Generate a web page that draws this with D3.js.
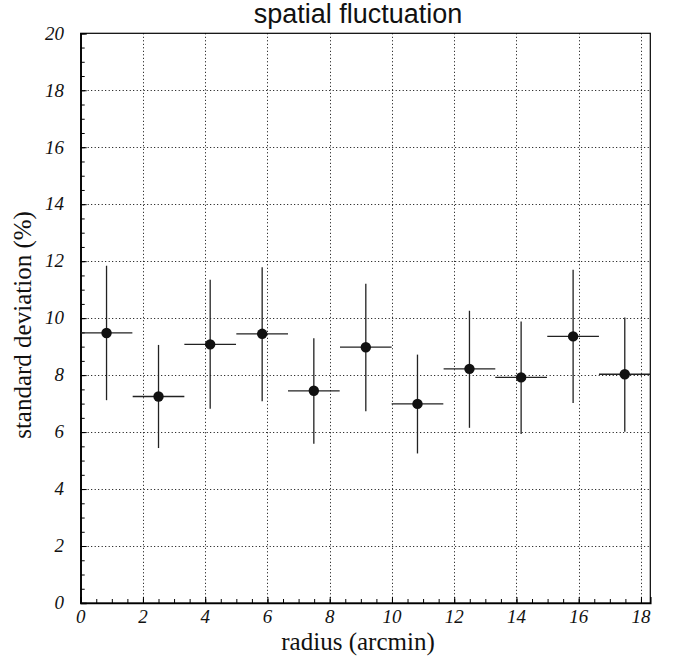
<!DOCTYPE html>
<html>
<head>
<meta charset="utf-8">
<script src="https://cdn.jsdelivr.net/npm/d3@7"></script>
<style>
  html, body { margin: 0; padding: 0; background: #fff; }
  svg { display: block; }
</style>
</head>
<body>
<svg id="chart" width="675" height="659"></svg>
<script>
// ---- data ----
const radius = [0.83, 2.50, 4.16, 5.83, 7.49, 9.16, 10.82, 12.49, 14.15, 15.82, 17.48];
const binHalfWidth = [0.83, 0.83, 0.83, 0.83, 0.83, 0.83, 0.83, 0.83, 0.83, 0.83, 0.83];
const stdDev = [9.48, 7.25, 9.08, 9.45, 7.45, 8.98, 6.99, 8.22, 7.92, 9.36, 8.03];
const errHigh = [11.84, 9.06, 11.35, 11.79, 9.29, 11.21, 8.72, 10.26, 9.88, 11.70, 10.02];
const errLow = [7.12, 5.44, 6.82, 7.08, 5.59, 6.73, 5.25, 6.15, 5.93, 7.02, 6.01];
const xTicks = [0, 2, 4, 6, 8, 10, 12, 14, 16, 18];
const yTicks = [0, 2, 4, 6, 8, 10, 12, 14, 16, 18, 20];
const titleText = "spatial fluctuation";
const xTitle = "radius (arcmin)";
const yTitle = "standard deviation (%)";

// ---- layout ----
const L = 80.7, R = 650.3, T = 33.3, B = 603;
const svg = d3.select("#chart");
const x = d3.scaleLinear().domain([0, 18.3]).range([L, R]);
const y = d3.scaleLinear().domain([0, 20]).range([B, T]);

// grid
const grid = svg.append("g").attr("stroke", "#000").attr("stroke-width", 1).attr("stroke-dasharray", "1,2.5");
grid.selectAll(".gx").data(xTicks.filter(d => d > 0)).join("line")
  .attr("x1", d => Math.round(x(d)) + 0.5).attr("x2", d => Math.round(x(d)) + 0.5)
  .attr("y1", T).attr("y2", B);
grid.selectAll(".gy").data(yTicks.filter(d => d > 0 && d < 20)).join("line")
  .attr("y1", d => Math.round(y(d)) + 0.5).attr("y2", d => Math.round(y(d)) + 0.5)
  .attr("x1", L).attr("x2", R);

// frame
svg.append("rect").attr("x", L).attr("y", T).attr("width", R - L).attr("height", B - T)
  .attr("fill", "none").attr("stroke", "#000").attr("stroke-width", 1.2);

// axes
const fmt = d3.format("d");
const xMinor = d3.range(0, 18.3, 0.5);
const yMinor = d3.range(0, 20.01, 0.5);
const xAxisG = svg.append("g").attr("transform", `translate(0,${B})`);
xAxisG.call(d3.axisTop(x).tickValues(xMinor).tickSize(4).tickFormat(""));
xAxisG.call(g => g.select(".domain").remove());
const xAxisMajor = svg.append("g").attr("transform", `translate(0,${B})`);
xAxisMajor.call(d3.axisTop(x).tickValues(xTicks).tickSize(6).tickFormat(""));
xAxisMajor.select(".domain").attr("stroke-width", 1.5);
svg.selectAll(".tick line").attr("stroke", "#000");

const yAxisG = svg.append("g").attr("transform", `translate(${L},0)`);
yAxisG.call(d3.axisRight(y).tickValues(yMinor).tickSize(4).tickFormat(""));
yAxisG.call(g => g.select(".domain").remove());
const yAxisMajor = svg.append("g").attr("transform", `translate(${L},0)`);
yAxisMajor.call(d3.axisRight(y).tickValues(yTicks).tickSize(6).tickFormat(""));
yAxisMajor.select(".domain").attr("stroke-width", 1.5);
svg.selectAll(".tick line").attr("stroke", "#000");

// tick labels
const labelFont = "'Liberation Serif', 'Times New Roman', serif";
svg.append("g").selectAll("text").data(xTicks).join("text")
  .attr("x", d => x(d)).attr("y", 623)
  .attr("text-anchor", "middle")
  .attr("font-family", labelFont).attr("font-style", "italic").attr("font-size", 19)
  .attr("fill", "#111")
  .text(fmt);
svg.append("g").selectAll("text").data(yTicks).join("text")
  .attr("x", 64).attr("y", d => y(d)).attr("dy", "0.33em")
  .attr("text-anchor", "end")
  .attr("font-family", labelFont).attr("font-style", "italic").attr("font-size", 19)
  .attr("fill", "#111")
  .text(fmt);

// axis titles
svg.append("text").attr("x", 358).attr("y", 650).attr("text-anchor", "middle")
  .attr("font-family", labelFont).attr("font-size", 25).attr("fill", "#111").text(xTitle);
svg.append("text").attr("transform", "translate(31,325) rotate(-90)").attr("text-anchor", "middle")
  .attr("font-family", labelFont).attr("font-size", 25).attr("fill", "#111").text(yTitle);

// title
svg.append("text").attr("x", 358).attr("y", 23).attr("text-anchor", "middle")
  .attr("font-family", "'Liberation Sans', Arial, Helvetica, sans-serif").attr("font-size", 27)
  .attr("fill", "#111").text(titleText);

// data
const pts = radius.map((r, i) => ({ r, hw: binHalfWidth[i], v: stdDev[i], hi: errHigh[i], lo: errLow[i] }));
const dg = svg.append("g");
dg.selectAll(".eh").data(pts).join("line")
  .attr("x1", d => x(d.r - d.hw)).attr("x2", d => x(d.r + d.hw))
  .attr("y1", d => y(d.v)).attr("y2", d => y(d.v))
  .attr("stroke", "#222").attr("stroke-width", 1.3);
dg.selectAll(".ev").data(pts).join("line")
  .attr("x1", d => x(d.r)).attr("x2", d => x(d.r))
  .attr("y1", d => y(d.lo)).attr("y2", d => y(d.hi))
  .attr("stroke", "#222").attr("stroke-width", 1.3);
dg.selectAll("circle").data(pts).join("circle")
  .attr("cx", d => x(d.r)).attr("cy", d => y(d.v)).attr("r", 5.2)
  .attr("fill", "#111");
</script>
</body>
</html>
